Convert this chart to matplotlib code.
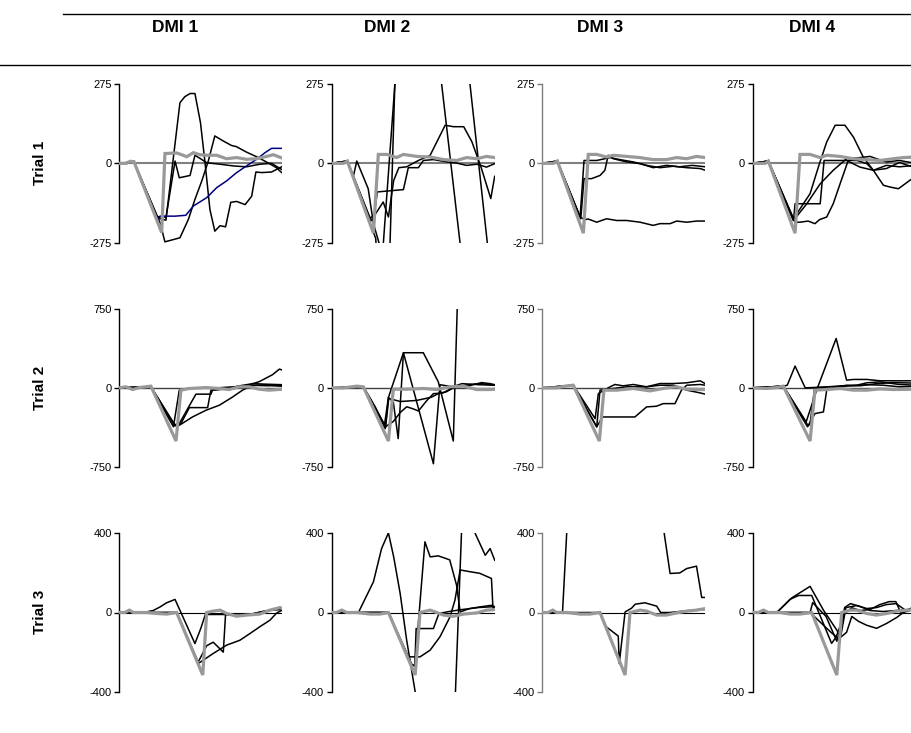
import matplotlib
matplotlib.use("Agg")
import matplotlib.pyplot as plt
from matplotlib.lines import Line2D

plt.rcParams['font.family'] = ['Liberation Sans', 'DejaVu Sans']

# ---------------- data ----------------
COLUMNS = ["DMI 1", "DMI 2", "DMI 3", "DMI 4"]
ROWS = ["Trial 1", "Trial 2", "Trial 3"]
ROW_LIMITS = [275, 750, 400]
ROW_TICKS = [["-275", "0", "275"], ["-750", "0", "750"], ["-400", "0", "400"]]

# Row 1 (Trial 1)
P11_GREY = [(0,0),(2.2,0),(3.3,7),(4.5,6),(13.0,-240),(14.0,34),(17.6,36),(19.6,28),(20.7,23),(22.7,37),(24.7,30),(26.8,28),(29.9,28),(32.9,16),(36,20),(39,14),(42,16),(45.2,24),(47.2,30),(49.8,19)]
P11_BLUE = [(11.7,-189),(13.5,-183),(17.1,-183),(20.4,-180),(22.7,-148),(26.8,-119),(29.9,-84),(32.9,-61),(36,-32),(39,-9),(42.1,14),(44.7,37),(46.7,52),(49.8,52)]
P11_A = [(0,0),(4.5,5),(11.7,-190),(14.3,-197),(18.6,210),(20.1,231),(21.7,242),(23.2,242),(24.9,141),(26.3,2),(27.8,-160),(29.3,-235),(30.9,-216),(32.6,-220),(34.2,-135),(36,-132),(38.6,-143),(40.6,-114),(41.9,-30),(43.7,-32),(46.7,-30),(49.8,-12)]
P11_B = [(0,0),(4.5,5),(11.7,-186),(13.3,-181),(14.3,-189),(17.1,8),(18.4,-50),(21.7,-42),(23.2,28),(25.2,14),(26.8,2),(30.9,-3),(35,-9),(39,-12),(43.1,-3),(46.7,0),(49.8,-21)]
P11_C = [(0,0),(4.5,5),(12.5,-206),(14,-272),(18.6,-258),(21.2,-194),(23.2,-125),(25.3,-61),(27.3,8),(29.3,95),(31.8,78),(34.4,62),(35.9,58),(39,39),(42.1,23),(45.1,5),(48.2,-15),(49.8,-32)]

P12_GREY = [(0,0),(3.6,0),(4.8,8),(12.8,-242),(14.3,31),(16.9,31),(19.9,20),(22,31),(26.1,24),(30.2,22),(34.3,13),(38.3,10),(41.4,20),(44.5,16),(47.5,24),(50,20)]
P12_A = [(0,0),(4.8,8),(6.6,-47),(7.7,8),(11.2,-88),(12.8,-209),(14.6,-279),(15.5,-330),(19.4,277),(21,700),(30,638),(39.4,-279),(41,-440),(50,-440)]
P12_B = [(0,0),(4.8,8),(11.8,-190),(13,-180),(14,-99),(22,-91),(23.5,-15),(26.6,-15),(28.1,10),(31.2,13),(35.3,5),(38.3,1),(41.4,-7),(44.5,-3),(47.5,-13),(50,-1)]
P12_C = [(0,0),(4.8,8),(12,-200),(15.8,-134),(17.4,-186),(19,-60),(20.6,-15),(23,-12),(26.6,10),(30.2,28),(34.8,132),(37.4,127),(40.5,127),(43,75),(45.8,-13),(48.8,-122),(50,-45)]
P12_D = [(0,0),(4.8,8),(12.5,-230),(13.5,-260),(16.5,-800),(20.5,700),(28,1000),(40,525),(50,-510)]

P13_GREY = [(0,0),(3.4,0),(4.6,8),(12.6,-242),(14.1,31),(16.7,31),(19.7,22),(21.8,28),(25.9,24),(29.9,20),(34,13),(38.1,13),(41.2,20),(44.3,16),(47.3,24),(50,20)]
P13_A = [(0,0),(4.6,8),(11.6,-186),(13,-195),(14.1,-193),(16.7,-204),(19.7,-192),(22.8,-198),(25.9,-198),(30,-204),(34,-215),(36.1,-209),(39.2,-209),(41.2,-200),(44.3,-204),(47.3,-200),(50,-200)]
P13_B = [(0,0),(4.6,8),(11.6,-186),(12.8,10),(16.7,10),(20.8,20),(23.8,13),(27.9,5),(32,-7),(36.1,-15),(40.2,-10),(44.3,-15),(48.4,-18),(50,-24)]
P13_C = [(0,0),(4.6,8),(11.8,-192),(12.8,-53),(15.1,-53),(17.7,-42),(19.2,-24),(20.2,28),(21.8,16),(25.9,5),(30,-1),(34,-15),(38.1,-7),(42,-12),(46,-7),(50,-12)]

P14_GREY = [(0,0),(3.8,0),(4.8,8),(13,-242),(14.5,31),(17.6,31),(20.7,20),(22.7,28),(26.8,24),(30.9,16),(35,13),(39.1,10),(43.1,16),(46.2,20),(50,22)]
P14_A = [(0,0),(4.8,8),(12.5,-192),(17.6,-105),(20.5,0),(22.7,74),(25.3,132),(28.3,132),(30.9,91),(33.9,22),(37,-24),(40.1,-76),(42.1,-82),(44.7,-88),(48.9,-53),(50,-40)]
P14_B = [(0,0),(4.8,8),(12.5,-198),(13,-140),(20.7,-140),(21.9,10),(28.8,10),(32.9,-13),(37,-24),(41,-7),(45,-12),(50,-7)]
P14_C = [(0,0),(4.8,8),(13,-204),(14.5,-204),(17,-200),(19.1,-209),(20.5,-195),(22.7,-186),(24.7,-140),(26.8,-71),(29.3,10),(32,10),(35,-1),(37,-24),(41,-18),(45,3),(48.9,-12),(50,-10)]
P14_D = [(0,0),(4.8,8),(12.5,-198),(16.6,-140),(20.7,-71),(24.7,-24),(28.8,16),(32.9,20),(36,24),(38,16),(41,5),(45,10),(50,0)]

# Row 2 (Trial 2)
P21_GREY = [(0,0),(2,10),(4.1,-16),(6.1,3),(9.7,16),(17.4,-506),(18.9,-22),(21.5,-6),(26.6,3),(30.7,-6),(33.7,-16),(36.8,10),(39.9,10),(42.9,-13),(46,-22),(50,-13)]
P21_A = [(0,0),(9.7,10),(16.6,-370),(18.4,-22),(22,0),(30,0),(35,10),(39,20),(43,60),(47,125),(49.1,178),(50,170)]
P21_B = [(0,0),(9.7,10),(17,-350),(18.4,-340),(21,-197),(23.5,-60),(28.1,-60),(28.6,-22),(33,-10),(37,20),(41,40),(45,35),(50,30)]
P21_C = [(0,0),(9.7,10),(17,-360),(18.9,-340),(21.5,-188),(27.1,-188),(28.1,-22),(35,0),(40,20),(45,30),(50,15)]
P21_D = [(0,0),(9.7,10),(17,-360),(18.4,-356),(22.5,-276),(26.6,-213),(30.7,-165),(34.8,-86),(37.8,-22),(40.9,25),(45,20),(50,20)]

P22_GREY = [(0,0),(3.6,0),(7.7,16),(9.7,10),(17.4,-506),(18.9,-13),(23,-13),(28.1,-6),(32.2,-16),(36.3,10),(40.4,16),(44.5,-16),(48.6,-16),(50,-13)]
P22_A = [(0,0),(9.7,10),(13.3,-181),(16.4,-388),(17.4,-92),(18.9,-134),(20.4,-483),(22,334),(28.1,334),(32.7,57),(37.3,-506),(39.5,1800),(50,1800)]
P22_B = [(0,0),(9.7,10),(13.3,-181),(16.2,-350),(17.4,-92),(22,334),(31.2,-722),(33.2,30),(37,10),(40,40),(45,30),(50,25)]
P22_C = [(0,0),(9.7,10),(16.5,-380),(17.5,-100),(21,-130),(26,-120),(30.5,-90),(33,-50),(35,-40),(38,10),(42,30),(46,40),(50,25)]
P22_D = [(0,0),(9.7,10),(16.5,-370),(18.9,-320),(21,-235),(23,-180),(25,-200),(26.6,-220),(29.2,-120),(31.2,-55),(34,-50),(38,15),(42,20),(46,50),(48.6,40),(50,30)]

P23_GREY = [(0,0),(4.4,0),(6.9,16),(9.5,25),(17.5,-506),(18.9,-22),(22.8,-22),(27.9,-6),(33,-29),(38.1,0),(41.2,10),(44.3,-13),(48.4,-16),(50,-16)]
P23_A = [(0,0),(9.5,25),(16.2,-293),(17.2,-54),(20.8,10),(22.3,32),(24.8,19),(27.9,32),(32,10),(36.1,41),(40.2,41),(44.3,48),(48.4,67),(50,40)]
P23_B = [(0,0),(9.5,25),(16.7,-372),(17.7,-22),(21.8,-6),(25.9,10),(32,10),(36.1,25),(40.2,25),(44.3,-22),(48.4,-48),(50,-60)]
P23_C = [(0,0),(9.5,25),(16.7,-370),(18.4,-280),(18.7,-277),(28.4,-277),(32,-181),(35,-175),(37.1,-150),(40.7,-150),(42.7,-22),(44.3,25),(48.4,32),(50,25)]

P24_GREY = [(0,0),(4.3,-6),(7.4,3),(9.4,16),(17.6,-506),(19.1,-22),(22.7,-16),(26.8,-6),(30.9,-22),(35,-22),(39.1,-10),(43.1,-16),(50,-13)]
P24_A = [(0,0),(9.4,16),(10.6,25),(13,207),(16.1,0),(20,5),(25,10),(30,20),(35,30),(40,25),(45,10),(50,15)]
P24_B = [(0,0),(9.4,16),(16.4,-324),(19.6,-22),(25.6,470),(28.8,73),(30.9,80),(35,80),(39.1,67),(50,67)]
P24_C = [(0,0),(9.4,16),(17,-360),(19.1,-245),(21.7,-229),(22.7,-22),(24.7,3),(28.8,25),(31.9,25),(35,48),(39.1,57),(45,32),(50,25)]
P24_D = [(0,0),(9.4,16),(16.8,-370),(17.6,-340),(19,0),(23,10),(28,20),(33,20),(38,40),(43,50),(50,45)]

# Row 3 (Trial 3)
P31_GREY = [(0,0),(1.7,0),(3.1,12),(4.3,0),(8.4,0),(11.5,-5),(14.6,-8),(17.6,0),(25.6,-316),(26.8,0),(28.8,7),(30.9,12),(32.9,-5),(36,-19),(39.1,-13),(43.1,-8),(46.2,12),(49.3,25),(50,20)]
P31_A = [(0,0),(7.4,0),(10.4,10),(12.5,28),(14.5,49),(17.1,66),(23.2,-157),(25,-80),(26.4,-10),(28,-10),(32,-10),(36,-15),(40,-10),(44,5),(47,15),(50,20)]
P31_B = [(0,0),(17.6,0),(24.2,-250),(26.8,-168),(28.8,-150),(31.9,-200),(32.6,-8),(36,-15),(40,-10),(44,5),(47,12),(50,15)]
P31_C = [(0,0),(17.6,0),(24.2,-258),(28.8,-207),(32.9,-165),(37,-140),(40.1,-106),(43.1,-72),(46.2,-39),(48.3,-2),(50,12)]

P32_GREY = [(0,0),(1.5,0),(3.1,12),(4.6,0),(7.7,0),(11.8,-8),(14.8,-8),(17.4,0),(25.6,-316),(27.1,0),(30.2,12),(32.2,0),(34.3,-13),(37.3,-19),(40.4,-8),(44.5,-2),(47.5,12),(50,15)]
P32_A = [(0,0),(8.2,0),(12.8,155),(15.3,323),(17.4,402),(19,282),(21,96),(23,-140),(25.6,-400),(27,-600),(37.5,-600),(40.5,700),(44,400),(47.1,289),(48.6,323),(50,264)]
P32_B = [(0,0),(17.4,0),(24.5,-260),(25.5,-270),(28.6,357),(30.2,281),(32.7,286),(36.2,266),(38.3,138),(39.4,3),(42.4,20),(45.4,28),(49.3,37),(50,20)]
P32_C = [(0,0),(17.4,0),(23.5,-224),(27.1,-224),(30.2,-190),(33.2,-123),(36.3,-22),(37.8,62),(39.4,215),(42.4,206),(45.4,198),(49,172),(49.5,12),(50,20)]
P32_D = [(0,0),(17.4,0),(24.5,-265),(25.5,-270),(25.9,-81),(31.2,-81),(32.9,-5),(36,5),(40,15),(45,25),(50,30)]

P33_GREY = [(0,0),(1.8,0),(3.2,12),(4.4,0),(7.5,0),(11.6,-8),(14.6,-8),(17.7,0),(25.4,-316),(26.9,0),(30,12),(32,7),(35.1,-13),(38.1,-13),(41.2,-2),(44.3,7),(47.3,12),(50,20)]
P33_A = [(0,0),(6.2,0),(7.8,500),(36.5,500),(39.2,197),(42.2,200),(44.3,222),(47.3,234),(48.9,76),(50,76)]
P33_B = [(0,0),(17.7,0),(19.6,-72),(23.3,-119),(23.6,-258),(25.4,3),(27.4,22),(28.5,42),(31.5,49),(35.1,32),(36.3,0),(39,0),(42,5),(45,10),(48,15),(50,15)]

P34_GREY = [(0,0),(1.7,0),(3.3,12),(4.8,0),(8.4,0),(11.5,-8),(14.5,-8),(18.1,0),(25.8,-316),(27.3,0),(29.9,12),(31.9,12),(35,-5),(38,-13),(41.1,-5),(44.2,7),(47.2,12),(50,15)]
P34_A = [(0,0),(7.4,0),(12,74),(17.6,132),(21.7,12),(25.8,-89),(27,-120),(28.6,25),(31.9,35),(35,20),(38,25),(41,40),(44,45),(47,10),(50,30)]
P34_B = [(0,0),(7.4,0),(11.5,67),(14.1,86),(18.1,86),(24.2,-156),(25.6,-124),(28.2,-5),(30.4,24),(33,10),(36,15),(39,40),(41.9,55),(43.9,55),(45.4,0),(50,30)]
P34_C = [(0,0),(17.6,0),(18.4,50),(22.5,-20),(25.8,-145),(27,-80),(28.2,25),(30,45),(33,30),(36,10),(40,5),(44,10),(48,15),(50,20)]
P34_D = [(0,0),(17.6,0),(24,-100),(26.4,-133),(28.8,-100),(30.4,-20),(32.5,-45),(34.9,-64),(38,-80),(41.1,-55),(44.2,-25),(46.2,0),(50,20)]

GREY_SERIES = [[P11_GREY, P12_GREY, P13_GREY, P14_GREY],
               [P21_GREY, P22_GREY, P23_GREY, P24_GREY],
               [P31_GREY, P32_GREY, P33_GREY, P34_GREY]]
BLACK_SERIES = [[[P11_A, P11_B, P11_C], [P12_A, P12_B, P12_C, P12_D], [P13_A, P13_B, P13_C], [P14_A, P14_B, P14_C, P14_D]],
                [[P21_A, P21_B, P21_C, P21_D], [P22_A, P22_B, P22_C, P22_D], [P23_A, P23_B, P23_C], [P24_A, P24_B, P24_C, P24_D]],
                [[P31_A, P31_B, P31_C], [P32_A, P32_B, P32_C, P32_D], [P33_A, P33_B], [P34_A, P34_B, P34_C, P34_D]]]
BLUE_SERIES = {(0, 0): P11_BLUE}

# ---------------- layout (pixels) ----------------
W, H = 912, 733
fig = plt.figure(figsize=(W / 100, H / 100), dpi=100)

col_x = [119.3, 331.7, 542.3, 752.7]
col_w = 163
row_top = [84, 309, 533.3]
row_bot = [242.7, 466.7, 691.7]
zero_colors = ['#808080', '#404040', '#000000']
zero_lw = [1.5, 1.0, 0.8]

def split(series):
    return [p[0] for p in series], [p[1] for p in series]

for r in range(3):
    lim = ROW_LIMITS[r]
    for c in range(4):
        x0 = col_x[c]
        ax = fig.add_axes([x0 / W, 1 - row_bot[r] / H, col_w / W, (row_bot[r] - row_top[r]) / H])
        ax.set_xlim(0, 50)
        ax.set_ylim(-lim, lim)
        ax.patch.set_alpha(0)
        for s in ['top', 'right', 'bottom']:
            ax.spines[s].set_visible(False)
        spine_col = '#7f7f7f' if c == 2 else '#000000'
        ax.spines['left'].set_color(spine_col)
        ax.spines['left'].set_linewidth(1.0)
        ax.set_xticks([])
        ax.set_yticks([-lim, 0, lim])
        ax.set_yticklabels(ROW_TICKS[r], fontsize=8)
        ax.tick_params(axis='y', length=3.5, width=1.0, color=spine_col, pad=2)
        ax.axhline(0, color=zero_colors[r], lw=zero_lw[r], zorder=1)
        for s in BLACK_SERIES[r][c]:
            t, v = split(s)
            ax.plot(t, v, color='black', lw=1.1, zorder=2)
        if (r, c) in BLUE_SERIES:
            t, v = split(BLUE_SERIES[(r, c)])
            ax.plot(t, v, color='#000080', lw=1.1, zorder=3)
        t, v = split(GREY_SERIES[r][c])
        ax.plot(t, v, color='#999999', lw=2.3, zorder=4, solid_joinstyle='miter')

# header
head_x = [175, 387, 600, 812]
for name, hx in zip(COLUMNS, head_x):
    fig.text(hx / W, 1 - 27 / H, name, ha='center', va='center', fontsize=12.5, fontweight='bold')
fig.add_artist(Line2D([63 / W, 1], [1 - 14 / H, 1 - 14 / H], color='black', lw=1.0))
fig.add_artist(Line2D([0, 1], [1 - 65 / H, 1 - 65 / H], color='black', lw=1.0))

row_y = [163, 388, 612]
for name, ry in zip(ROWS, row_y):
    fig.text(40 / W, 1 - ry / H, name, ha='center', va='center', rotation=90, fontsize=11, fontweight='bold')

fig.savefig('out.png', dpi=100)
